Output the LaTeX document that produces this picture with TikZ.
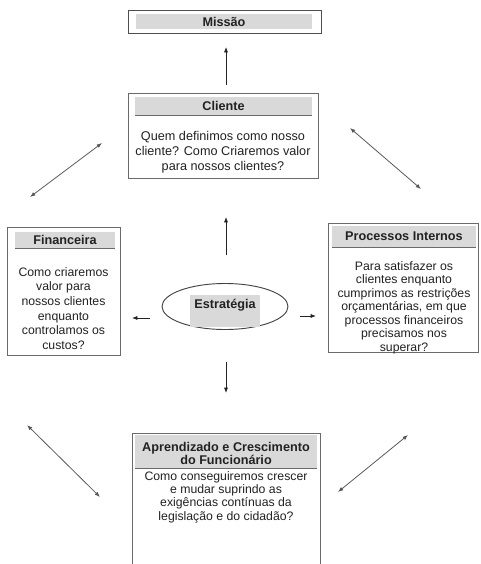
\documentclass[tikz,border=0pt]{standalone}
\usepackage{fontspec}
\setmainfont{Liberation Sans}
\usetikzlibrary{arrows.meta,shapes.geometric,positioning}
\definecolor{faixacor}{HTML}{D9D9D9}
\definecolor{bordacor}{HTML}{6A6A6A}
\definecolor{tinta}{HTML}{222222}
\tikzset{
  caixa/.style={draw=bordacor, line width=0.7pt, fill=white},
  faixa/.style={fill=faixacor},
  titulo/.style={font=\fontsize{9.5}{10}\selectfont\bfseries, text=tinta, align=center, inner sep=0pt},
  texto/.style={font=\fontsize{9.3}{11}\selectfont, text=tinta, align=center, inner sep=0pt},
  seta/.style={draw=tinta, line width=0.5pt, -{Latex[length=4pt,width=3pt]}},
  setadupla/.style={draw=tinta!75, line width=0.6pt, {Latex[length=4pt,width=3pt]}-{Latex[length=4pt,width=3pt]}}
}
\begin{document}
\begin{tikzpicture}[x=0.75pt,y=-0.75pt]
    \useasboundingbox (0,0) rectangle (481,564);
    \clip (0,0) rectangle (481,564);

    % Missao
    \draw[caixa, draw=tinta!80] (128,10) rectangle (321,33);
    \fill[faixa] (136,14) rectangle (312,29);
    \node[titulo] (missao) at (224,21.5) {Missão};

    % Cliente
    \draw[caixa] (128,93) rectangle (318,178);
    \fill[faixa] (135,97) rectangle (312,115);
    \draw[bordacor, line width=0.8pt] (135,115.5) -- (312,115.5);
    \node[titulo] (cliente) at (223.5,106) {Cliente};
    \node[texto, font=\fontsize{9.5}{11.3}\selectfont] (clienteTxt) at (223,152)
        {Quem definimos como nosso\\cliente? Como Criaremos valor\\para nossos clientes?};

    % Financeira
    \draw[caixa] (7,227) rectangle (120,355);
    \fill[faixa] (15,232) rectangle (115,248);
    \draw[bordacor, line width=0.8pt] (15,248.5) -- (115,248.5);
    \node[titulo] (financeira) at (65,240) {Financeira};
    \node[texto, font=\fontsize{9.2}{10.95}\selectfont] (financeiraTxt) at (63.5,308.5)
        {Como criaremos\\valor para\\nossos clientes\\enquanto\\controlamos os\\custos?};

    % Processos Internos
    \draw[caixa] (328,223) rectangle (478,352);
    \fill[faixa] (332,226) rectangle (476,247);
    \draw[bordacor, line width=0.8pt] (332,247.5) -- (476,247.5);
    \node[titulo] (processos) at (404,236.5) {Processos Internos};
    \node[texto, font=\fontsize{9.2}{10.1}\selectfont] (processosTxt) at (404,307.5)
        {Para satisfazer os\\clientes enquanto\\cumprimos as restrições\\orçamentárias, em que\\processos financeiros\\precisamos nos\\superar?};

    % Aprendizado e Crescimento
    \draw[caixa] (132,433) rectangle (320,575);
    \fill[faixa] (135,435) rectangle (317,468);
    \draw[bordacor, line width=0.8pt] (135,468.5) -- (317,468.5);
    \node[titulo] (aprendizado) at (226,453.5) {Aprendizado e Crescimento\\do Funcionário};
    \node[texto, font=\fontsize{9.2}{10}\selectfont] (aprendizadoTxt) at (226,497)
        {Como conseguiremos crescer\\e mudar suprindo as\\exigências contínuas da\\legislação e do cidadão?};

    % Estrategia
    \node[ellipse, draw=tinta!85, line width=0.7pt, minimum width=94.5pt, minimum height=34.5pt] (estrategia) at (225,306.5) {};
    \fill[faixa] (190,295) rectangle (260,327);
    \node[titulo] (estrategiaTxt) at (225,305) {Estratégia};

    % setas simples
    \coordinate (cimaA) at (226,85);   \coordinate (cimaB) at (226,47);
    \coordinate (meioA) at (226,255);  \coordinate (meioB) at (226,217);
    \coordinate (baixoA) at (226,362); \coordinate (baixoB) at (226,393);
    \coordinate (esqA) at (150,318);   \coordinate (esqB) at (132,318);
    \coordinate (dirA) at (300,316);   \coordinate (dirB) at (316,316);
    \draw[seta] (cimaA) -- (cimaB);
    \draw[seta] (meioA) -- (meioB);
    \draw[seta] (baixoA) -- (baixoB);
    \draw[seta] (esqA) -- (esqB);
    \draw[seta] (dirA) -- (dirB);

    % setas duplas
    \coordinate (d1a) at (30,197);  \coordinate (d1b) at (102,143);
    \coordinate (d2a) at (350,128); \coordinate (d2b) at (421,189);
    \coordinate (d3a) at (27,425);  \coordinate (d3b) at (100,497);
    \coordinate (d4a) at (408,435); \coordinate (d4b) at (338,492);
    \foreach \a/\b in {d1a/d1b, d2a/d2b, d3a/d3b, d4a/d4b}
        \draw[setadupla] (\a) -- (\b);
\end{tikzpicture}
\end{document}
